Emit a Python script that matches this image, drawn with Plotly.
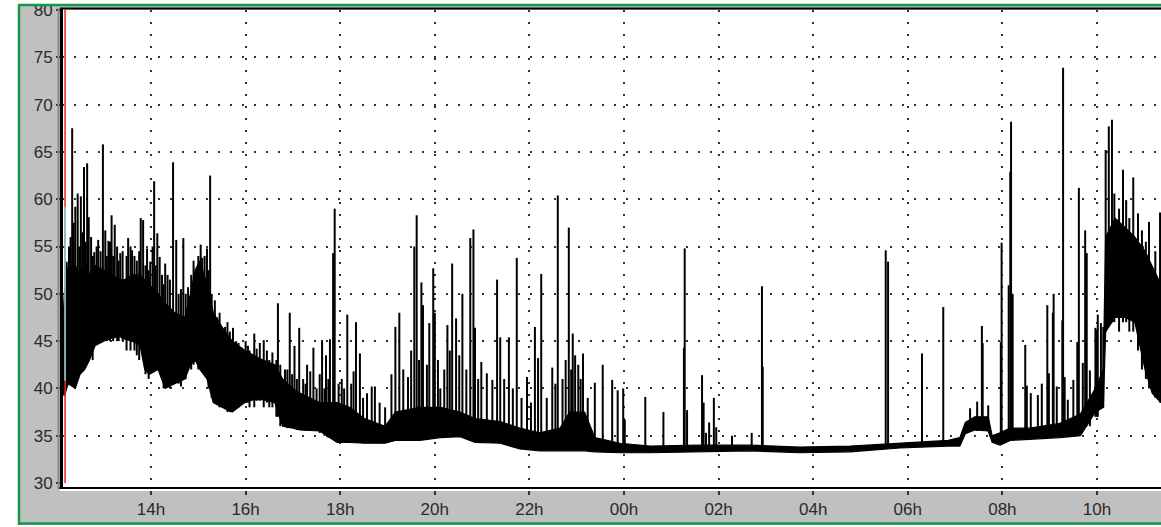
import plotly.graph_objects as go

# noise level (dB) logged from about 12:07 to 11:21 the next morning

# dense band: time, lower edge, upper edge
env_time = ["12:07", "12:10", "12:15", "12:24", "12:30", "12:36", "12:42", "12:49", "13:00", "13:10",
            "13:20", "13:27", "13:36", "13:46", "13:52", "13:58", "14:09", "14:18", "14:30", "14:43",
            "14:50", "14:56", "15:02", "15:11", "15:19", "15:30", "15:43", "15:59", "16:10", "16:22",
            "16:37", "16:47", "17:00", "17:09", "17:34", "17:56", "18:12", "18:31", "18:57", "19:10",
            "19:41", "20:07", "20:32", "20:51", "21:23", "21:48", "22:13", "22:39", "22:51", "23:10",
            "23:23", "23:55", "00:33", "01:36", "02:40", "03:43", "04:47", "05:50", "06:41", "06:51",
            "07:06", "07:13", "07:25", "07:42", "07:47", "07:57", "08:10", "08:35", "09:13", "09:39",
            "09:58", "10:08", "10:11", "10:23", "10:36", "10:48", "11:01", "11:10", "11:21"]
env_low = [40, 39.2, 40.5, 40, 41.5, 42, 43, 44.5, 45, 45.3,
           45.5, 45.2, 45, 44.6, 42, 41.5, 42, 40, 40.5, 41,
           42.5, 43, 42, 41, 38.5, 38, 37.5, 38.5, 38.8, 38.8,
           38.5, 36, 35.8, 35.6, 35.5, 34.3, 34.3, 34.2, 34.2, 34.5,
           34.5, 34.8, 34.9, 34.3, 34.2, 33.6, 33.4, 33.4, 33.4, 33.4,
           33.3, 33.2, 33.2, 33.3, 33.4, 33.2, 33.3, 33.7, 33.9, 33.9,
           33.9, 35.2, 35.6, 35.5, 34.3, 34.0, 34.5, 34.6, 34.8, 35,
           37.5, 38, 46, 47.5, 47.5, 47, 42, 39.5, 38.5]
env_high = [45, 50, 53, 53, 52, 53.5, 52, 53, 52.5, 52,
            51.5, 51.5, 52, 52, 51.5, 51, 50, 49, 48, 47.5,
            50, 52.5, 53.5, 51, 48, 46.5, 45, 44, 43.5, 43,
            42.5, 41, 40, 39.5, 38.5, 38.5, 38, 36.8, 36, 37.5,
            38, 38, 37.5, 36.8, 36.5, 35.8, 35.3, 35.8, 37.5, 37.5,
            34.8, 34.2, 33.9, 34.0, 34.0, 33.8, 33.9, 34.2, 34.5, 34.5,
            34.8, 36.4, 37, 37, 35, 35.3, 35.8, 35.8, 36.3, 37.3,
            40, 42, 56, 58, 57, 56, 54.5, 53, 51]

# single peaks: (time, foot, peak)
peaks_afternoon = [
    ("12:13", 42, 53.4), ("12:20", 46, 67.5), ("12:24", 46, 59.2), ("12:27", 46, 60.6),
    ("12:31", 46, 60.3), ("12:35", 47, 63.4), ("12:39", 47, 63.8), ("12:41", 47, 58.1),
    ("12:48", 47, 54.4), ("12:53", 47, 55.7), ("12:59", 47, 65.8), ("13:02", 47, 56.7),
    ("13:06", 47, 55.6), ("13:10", 47, 58.3), ("13:14", 47, 57.3), ("13:21", 47, 54.3),
    ("13:31", 47, 55.9), ("13:36", 47, 54.6), ("13:47", 47, 58), ("13:50", 47, 57.8),
    ("13:55", 46, 54.8), ("13:59", 46, 53.4), ("14:04", 46, 61.9), ("14:08", 46, 56.4),
    ("14:11", 45, 53.9), ("14:18", 44, 53.2), ("14:28", 44, 63.9), ("14:32", 44, 55.7),
    ("14:41", 44, 55.9), ("14:47", 44, 50.7), ("14:58", 45, 50.7), ("15:05", 45, 53.8),
    ("15:11", 45, 54.8), ("15:15", 45, 62.5), ("15:21", 42, 49.3), ("15:30", 41, 45.6),
    ("15:44", 40, 46.4), ("15:55", 40, 44.3),
]
# shorter strokes that make the ragged edges of the busy afternoon band
fringe_afternoon = [
    ("12:11", 39.5, 47), ("12:16", 41, 55), ("12:18", 42, 56), ("12:22", 42, 57.5),
    ("12:29", 43, 55), ("12:33", 43, 56.5), ("12:37", 44, 55.5), ("12:44", 44, 56),
    ("12:46", 43, 54), ("12:51", 45, 55), ("12:56", 45, 54.5), ("13:04", 45, 54),
    ("13:08", 45, 55.5), ("13:12", 45, 54), ("13:17", 45, 55), ("13:19", 45, 53.5),
    ("13:24", 45, 54.5), ("13:29", 44, 54), ("13:34", 44, 55), ("13:39", 44, 54),
    ("13:42", 43.5, 53.5), ("13:45", 43, 54.5), ("13:53", 41.5, 53), ("13:57", 41, 52.5),
    ("14:02", 42, 55), ("14:06", 42.5, 53), ("14:14", 41, 52), ("14:16", 40, 51),
    ("14:21", 40.5, 52), ("14:24", 40, 51.5), ("14:35", 40.5, 50), ("14:38", 40.2, 50.5),
    ("14:44", 41, 50), ("14:51", 42, 52), ("14:54", 42.5, 53.5), ("15:00", 42, 54),
    ("15:03", 42, 55.2), ("15:08", 41.5, 54), ("15:13", 40, 52.5), ("15:17", 39, 50),
    ("15:24", 38.5, 47.5), ("15:27", 38, 48), ("15:34", 37.8, 46.5), ("15:37", 37.5, 47),
    ("15:40", 37.5, 46), ("15:48", 38, 45), ("15:51", 38, 44.8), ("16:00", 38.5, 45),
    ("16:03", 38.5, 44.5), ("16:14", 38.7, 44.2), ("16:18", 38.7, 44.8), ("16:27", 38.5, 44),
    ("16:34", 38, 43.8), ("16:39", 37, 43), ("16:44", 36, 42.5), ("16:53", 35.8, 42),
    ("16:59", 35.8, 41.5), ("17:05", 35.6, 41), ("17:16", 35.5, 40.5), ("17:22", 35.5, 41.8),
    ("17:30", 35.5, 40), ("17:34", 35.3, 41.5), ("17:40", 35, 40), ("17:45", 34.8, 41),
    ("18:02", 34.3, 41), ("18:05", 34.3, 40), ("18:14", 34.3, 40.5), ("18:17", 34.3, 41.8),
    ("18:29", 34.2, 39), ("18:34", 34.2, 39.5), ("18:50", 34.2, 38.5),
]
peaks_evening = [
    ("16:05", 38, 44), ("16:11", 38, 45.8), ("16:23", 38, 45.1), ("16:30", 38, 43),
    ("16:41", 37, 49), ("16:50", 37, 42), ("16:56", 37, 48), ("17:02", 36, 44.5),
    ("17:08", 36, 46.4), ("17:13", 36, 41), ("17:18", 36, 42.5), ("17:26", 36, 44.3),
    ("17:37", 36, 45.1), ("17:42", 36, 43.5), ("17:47", 36, 45.2), ("17:51", 36, 54.3),
    ("17:53", 36, 59), ("17:58", 35, 40.5), ("18:09", 35, 47.8), ("18:20", 35, 47),
    ("18:25", 35, 43.7), ("18:40", 34.5, 40.2), ("18:44", 34.5, 40.2), ("18:57", 34.5, 38),
    ("19:05", 35, 41.5), ("19:10", 35, 46.5), ("19:15", 35, 48), ("19:20", 35, 42),
    ("19:26", 35, 41.2), ("19:30", 35, 44), ("19:34", 35, 55), ("19:37", 35, 58.3),
    ("19:40", 35, 43), ("19:43", 35, 51.2), ("19:45", 35, 48.8), ("19:50", 35, 42.5),
    ("19:53", 35, 46.9), ("19:58", 35, 52.7),
]
peaks_night = [
    ("20:00", 35, 48), ("20:04", 35, 43), ("20:07", 35, 40), ("20:12", 35, 42),
    ("20:16", 35, 46.7), ("20:19", 35, 44), ("20:22", 35, 53.2), ("20:27", 35, 47.4),
    ("20:31", 35, 43.5), ("20:35", 35, 50), ("20:40", 35, 42), ("20:45", 35, 55.9),
    ("20:49", 35, 56.8), ("20:51", 35, 46.4), ("20:55", 35, 41), ("20:59", 35, 42.8),
    ("21:06", 35, 41.6), ("21:13", 35, 40.9), ("21:19", 35, 51.5), ("21:23", 35, 45.4),
    ("21:28", 35, 41), ("21:34", 34.5, 45.4), ("21:39", 34.5, 40), ("21:44", 34.5, 53.8),
    ("21:50", 34.5, 39), ("21:57", 34, 41.2), ("22:02", 34, 38.5), ("22:07", 34, 46.5),
    ("22:11", 34, 43.2), ("22:15", 34, 52.1), ("22:22", 34, 39), ("22:29", 34, 42.2),
    ("22:33", 34, 40.5), ("22:36", 34, 60.4), ("22:42", 34, 41), ("22:46", 34, 43),
    ("22:50", 34, 57), ("22:53", 34, 42), ("22:55", 34, 45.8), ("22:58", 34, 43.5),
    ("23:02", 34, 42.5), ("23:05", 34, 41), ("23:08", 34, 43.7), ("23:14", 34, 39),
    ("23:23", 33.8, 40.6), ("23:33", 33.8, 42.5), ("23:45", 33.8, 40.9), ("23:52", 33.8, 39.8),
    ("23:59", 33.8, 40),
]
peaks_early = [
    ("00:01", 33.6, 36.7), ("00:27", 33.6, 39.1), ("00:50", 33.6, 37.5), ("01:16", 33.6, 44.3),
    ("01:17", 33.6, 54.8), ("01:20", 33.6, 37.7), ("01:39", 33.6, 41.4), ("01:41", 33.6, 38.5),
    ("01:44", 33.6, 35.3), ("01:48", 33.6, 36.4), ("01:54", 33.6, 39), ("01:57", 33.6, 35.9),
    ("02:17", 33.6, 35), ("02:42", 33.6, 35.3), ("02:55", 33.6, 50.8), ("02:56", 33.6, 42.3),
    ("05:32", 33.9, 54.6), ("05:35", 33.9, 53.4), ("06:18", 34, 43.7), ("06:45", 34.2, 48.6),
    ("07:19", 35.5, 37.9), ("07:28", 35.5, 38.6), ("07:34", 35.5, 46.6), ("07:35", 35.5, 44.8),
    ("07:42", 35.5, 38.2),
]
peaks_morning = [
    ("07:58", 34.5, 44.9), ("07:59", 34.5, 55.4), ("08:08", 35, 50.9), ("08:10", 35, 62.9),
    ("08:11", 35, 68.2), ("08:13", 35, 50), ("08:29", 35, 44.6), ("08:31", 35, 40.3),
    ("08:36", 35, 39.5), ("08:45", 35, 39.3), ("08:50", 35, 40.5), ("08:57", 35, 48.8),
    ("08:59", 35, 41.6), ("09:04", 35, 48), ("09:05", 35, 50), ("09:09", 35, 40.2),
    ("09:16", 35, 47.2), ("09:17", 35, 73.9), ("09:19", 35, 41.2), ("09:23", 35, 38.8),
    ("09:30", 35, 40.9), ("09:35", 35.5, 44.9), ("09:37", 35.5, 61.2), ("09:42", 35.5, 42.7),
    ("09:45", 36, 56.7), ("09:47", 36, 54.3), ("09:51", 36, 41.9), ("09:58", 37, 46.4),
    ("10:00", 37, 46.2), ("10:01", 37, 47.8), ("10:05", 38, 46.9), ("10:08", 38, 46.5),
    ("10:11", 46, 65.2), ("10:15", 47, 67.7), ("10:19", 47, 68.4), ("10:22", 47, 60.6),
    ("10:28", 46, 59), ("10:33", 47, 63.1), ("10:37", 47, 59.9), ("10:41", 46, 58),
    ("10:46", 46, 62.3), ("10:52", 44, 58.5), ("10:57", 42, 56.7), ("11:02", 41, 55.5),
    ("11:06", 40, 57.6), ("11:14", 39, 54.5), ("11:20", 38.5, 58.6),
]


def ts(hm):
    # afternoon belongs to day 1, everything before noon to day 2
    day = "2021-06-01" if int(hm[:2]) >= 12 else "2021-06-02"
    return day + " " + hm


fig = go.Figure()

fig.add_trace(go.Scatter(x=[ts(t) for t in env_time], y=env_low, mode="lines",
                         line=dict(color="black", width=1.2), hoverinfo="skip"))
fig.add_trace(go.Scatter(x=[ts(t) for t in env_time], y=env_high, mode="lines",
                         fill="tonexty", fillcolor="black",
                         line=dict(color="black", width=1.2), hoverinfo="skip"))

px_, py_ = [], []
for t, lo, hi in (peaks_afternoon + fringe_afternoon + peaks_evening + peaks_night
                  + peaks_early + peaks_morning):
    px_ += [ts(t), ts(t), None]
    py_ += [lo, hi, None]
fig.add_trace(go.Scatter(x=px_, y=py_, mode="lines", connectgaps=False,
                         line=dict(color="black", width=2), hoverinfo="skip"))

W, H = 1161, 527
L, R, T, B = 62, 0, 10, 44
pw, ph = W - L - R, H - T - B


def xp(px):
    return (px - L) / pw


def yp(py):
    return (H - B - py) / ph


green = "#16964a"
shapes = [
    # left start marker
    dict(type="line", xref="x", yref="paper", x0=ts("12:11"), x1=ts("12:11"), y0=0, y1=1,
         line=dict(color="#e8261c", width=1.5)),
    dict(type="line", xref="x", yref="y", x0=ts("12:11"), x1=ts("12:11"), y0=40.8, y1=59.2,
         line=dict(color="#7fd3e0", width=1.5)),
    # white strip and black bottom axis
    dict(type="rect", xref="paper", yref="paper", x0=xp(60), x1=1, y0=yp(491), y1=yp(483),
         fillcolor="white", line_width=0, layer="above"),
    dict(type="line", xref="paper", yref="paper", x0=xp(59), x1=1, y0=yp(488), y1=yp(488),
         line=dict(color="black", width=2), layer="above"),
    # left axis and top border
    dict(type="line", xref="paper", yref="paper", x0=xp(61.5), x1=xp(61.5), y0=yp(489), y1=yp(8),
         line=dict(color="black", width=3), layer="above"),
    dict(type="line", xref="paper", yref="paper", x0=xp(58.5), x1=xp(58.5), y0=yp(489), y1=yp(8),
         line=dict(color="#888888", width=2), layer="above"),
    dict(type="line", xref="paper", yref="paper", x0=xp(60), x1=1, y0=yp(8.5), y1=yp(8.5),
         line=dict(color="black", width=2), layer="above"),
    # outer white edges and green frame
    dict(type="rect", xref="paper", yref="paper", x0=xp(0), x1=xp(18), y0=yp(H), y1=yp(0),
         fillcolor="white", line_width=0, layer="above"),
    dict(type="rect", xref="paper", yref="paper", x0=xp(0), x1=1, y0=yp(4), y1=yp(0),
         fillcolor="white", line_width=0, layer="above"),
    dict(type="rect", xref="paper", yref="paper", x0=xp(0), x1=1, y0=yp(H), y1=yp(525),
         fillcolor="white", line_width=0, layer="above"),
    dict(type="line", xref="paper", yref="paper", x0=xp(19), x1=xp(19), y0=yp(525), y1=yp(4),
         line=dict(color=green, width=2.5), layer="above"),
    dict(type="line", xref="paper", yref="paper", x0=xp(18), x1=1, y0=yp(5), y1=yp(5),
         line=dict(color=green, width=2.5), layer="above"),
    dict(type="line", xref="paper", yref="paper", x0=xp(18), x1=1, y0=yp(523.5), y1=yp(523.5),
         line=dict(color=green, width=2.5), layer="above"),
]

tick_font = dict(family="Liberation Sans, Arial", size=17, color="#2a2a2a")

fig.update_layout(
    width=W, height=H,
    margin=dict(l=L, r=R, t=T, b=B, autoexpand=False),
    paper_bgcolor="#c0c0c0",
    plot_bgcolor="white",
    showlegend=False,
    shapes=shapes,
    xaxis=dict(
        type="date",
        range=["2021-06-01 12:07:06", "2021-06-02 11:21:12"],
        tick0="2021-06-01 00:00", dtick=7200000, tickformat="%Hh",
        ticks="outside", ticklen=11, tickwidth=1.5, tickcolor="#333",
        ticklabelstandoff=0,
        showgrid=True, gridcolor="#333", gridwidth=1.6, griddash="2px,10px",
        showline=False, zeroline=False, tickfont=tick_font,
    ),
    yaxis=dict(
        range=[30, 80], tick0=30, dtick=5,
        ticks="outside", ticklen=5, tickwidth=1.5, tickcolor="#333",
        showgrid=True, gridcolor="#333", gridwidth=1.6, griddash="2px,10px",
        showline=False, zeroline=False, tickfont=tick_font,
    ),
)

fig.write_html("out.html", config={"displayModeBar": False},
               post_script="document.body.style.margin='0';")
